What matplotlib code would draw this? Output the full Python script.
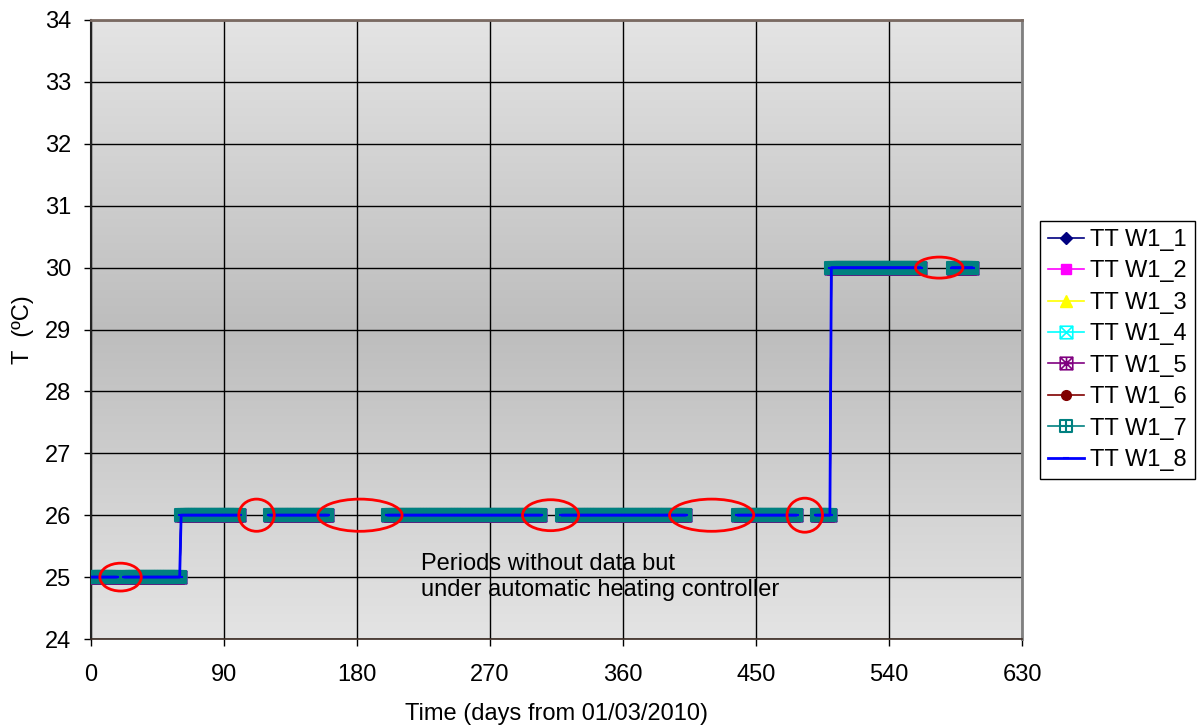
import numpy as np
import matplotlib
matplotlib.use("Agg")
import matplotlib.pyplot as plt
from matplotlib.path import Path
from matplotlib.patches import Ellipse
from matplotlib.colors import LinearSegmentedColormap

plt.rcParams['font.family'] = ['Liberation Sans', 'DejaVu Sans']

# ---- data ----
seg_start = [1, 23, 61, 121, 201, 319, 438, 491, 501, 583]
seg_end = [17, 60, 100, 160, 304, 402, 477, 500, 561, 596]
seg_temp = [25, 25, 26, 26, 26, 26, 26, 26, 30, 30]

series_names = ["TT W1_1", "TT W1_2", "TT W1_3", "TT W1_4",
                "TT W1_5", "TT W1_6", "TT W1_7", "TT W1_8"]

# red ellipses marking the periods without data: centre day, centre T, width (days), height (degC)
gap_day = [20, 112, 182, 311, 420, 483, 574]
gap_temp = [25, 26, 26, 26, 26, 26, 30]
gap_w = [28, 24, 57, 38, 57, 24, 32]
gap_h = [0.45, 0.52, 0.52, 0.5, 0.52, 0.55, 0.34]

x_ticks = [0, 90, 180, 270, 360, 450, 540, 630]
y_ticks = [24, 25, 26, 27, 28, 29, 30, 31, 32, 33, 34]

# build daily series with breaks where no data
days, temps = [], []
prev_end = None
for s, e, t in zip(seg_start, seg_end, seg_temp):
    if prev_end is not None and s != prev_end + 1:
        days.append(np.nan)
        temps.append(np.nan)
    d = np.arange(s, e + 1)
    days.extend(d.tolist())
    temps.extend([t] * len(d))
    prev_end = e
days = np.array(days, dtype=float)
temps = np.array(temps, dtype=float)

# ---- custom markers ----
def box_with(lines):
    verts = [(-1, -1), (1, -1), (1, 1), (-1, 1), (-1, -1)]
    codes = [Path.MOVETO, Path.LINETO, Path.LINETO, Path.LINETO, Path.CLOSEPOLY]
    for (a, b) in lines:
        verts += [a, b]
        codes += [Path.MOVETO, Path.LINETO]
    return Path(verts, codes)

m_box_x = box_with([((-1, -1), (1, 1)), ((-1, 1), (1, -1))])
m_box_plus = box_with([((0, -1), (0, 1)), ((-1, 0), (1, 0))])
m_box_star = box_with([((-1, -1), (1, 1)), ((-1, 1), (1, -1)), ((0, -1), (0, 1)), ((-1, 0), (1, 0))])

styles = [
    dict(color='#000080', marker='D', ms=6, mfc='#000080', mec='#000080', lw=1.2),
    dict(color='#FF00FF', marker='s', ms=7, mfc='#FF00FF', mec='#FF00FF', lw=1.2),
    dict(color='#FFFF00', marker='^', ms=8, mfc='#FFFF00', mec='#FFFF00', lw=1.2),
    dict(color='#00FFFF', marker=m_box_x, ms=9, mfc='none', mec='#00FFFF', mew=1.2, lw=1.2),
    dict(color='#800080', marker=m_box_star, ms=9, mfc='none', mec='#800080', mew=1.2, lw=1.2),
    dict(color='#800000', marker='o', ms=7, mfc='#800000', mec='#800000', lw=1.2),
    dict(color='#008080', marker=m_box_plus, ms=9, mfc='none', mec='#008080', mew=1.5, lw=1.2),
    dict(color='#0000FF', marker='_', ms=4, mfc='#0000FF', mec='#0000FF', mew=1.5, lw=2.0),
]

FS = 17

fig = plt.figure(figsize=(12.02, 7.27), dpi=100)
ax = fig.add_axes([91 / 1202, 1 - 639 / 727, (1022 - 91) / 1202, (639 - 20) / 727])

# gradient background
cmap = LinearSegmentedColormap.from_list(
    'bg', [(0.0, '#e4e4e4'), (0.5, '#bdbdbd'), (1.0, '#e4e4e4')])
grad = np.linspace(0, 1, 256).reshape(-1, 1)
ax.imshow(grad, cmap=cmap, aspect='auto', extent=[0, 1, 0, 1],
          transform=ax.transAxes, zorder=0, interpolation='bilinear')

for name, st in zip(series_names, styles):
    ax.plot(days, temps, label=name, linestyle='-', zorder=3, **st)

for cx, cy, w, h in zip(gap_day, gap_temp, gap_w, gap_h):
    ax.add_patch(Ellipse((cx, cy), w, h, fill=False, edgecolor='#FF0000', lw=2, zorder=5))

ax.text(223, 25.0, "Periods without data but\nunder automatic heating controller",
        fontsize=FS, ha='left', va='center', linespacing=1.28, zorder=6)

ax.set_xlim(0, 630)
ax.set_ylim(24, 34)
ax.set_xticks(x_ticks)
ax.set_yticks(y_ticks)
ax.set_axisbelow(True)
ax.grid(True, color='black', lw=1.0, zorder=0.5)
ax.tick_params(axis='both', direction='out', length=5, width=1, labelsize=FS, color='black')
ax.tick_params(axis='x', pad=13)
ax.tick_params(axis='y', pad=9)

ax.spines['left'].set_color('#222222')
ax.spines['left'].set_linewidth(1.5)
ax.spines['bottom'].set_color('#3a2a22')
ax.spines['bottom'].set_linewidth(1.2)
ax.spines['top'].set_color('#7a6a62')
ax.spines['top'].set_linewidth(2)
ax.spines['right'].set_color('#808080')
ax.spines['right'].set_linewidth(2)

ax.set_xlabel("Time (days from 01/03/2010)", fontsize=FS, labelpad=12)
ax.set_ylabel("T  (ºC)", fontsize=FS, labelpad=8)

leg = ax.legend(loc='center left', bbox_to_anchor=(1040 / 1202, 1 - 350 / 727),
                bbox_transform=fig.transFigure, fontsize=FS, frameon=True,
                fancybox=False, edgecolor='black', framealpha=1, handlelength=1.5,
                labelspacing=0.4, borderpad=0.35, handletextpad=0.25, borderaxespad=0)
leg.get_frame().set_linewidth(1.0)

fig.savefig("out.png", dpi=100)
